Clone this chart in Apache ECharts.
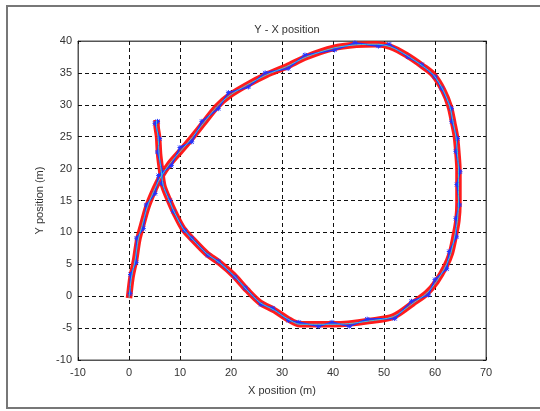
<!DOCTYPE html>
<html>
<head>
<meta charset="utf-8">
<script src="https://cdn.jsdelivr.net/npm/echarts@6/dist/echarts.min.js"></script>
<style>
  html, body { margin: 0; padding: 0; background: #fff; }
  #chart { width: 540px; height: 411px; }
</style>
</head>
<body>
<div id="chart"></div>
<script>
// tick values of both axes
var xTicks = [-10, 0, 10, 20, 30, 40, 50, 60, 70];
var yTicks = [-10, -5, 0, 5, 10, 15, 20, 25, 30, 35, 40];

// red band: measured positions
var redX = [0.0, 0.5, 1.2, 1.8, 2.5, 3.6, 4.8, 6.1, 8.0, 10.3, 12.0, 14.6, 17.2, 19.8, 23.1, 27.0, 30.9, 34.8, 40.1, 44.6, 48.6, 51.2, 54.4, 57.7, 59.7, 61.6, 62.9, 63.6, 64.1, 64.4, 64.6, 64.6, 64.6, 64.4, 63.9, 63.1, 62.0, 60.3, 58.4, 55.7, 51.8, 47.0, 43.0, 40.0, 37.0, 33.5, 31.0, 28.5, 25.7, 23.1, 20.5, 17.8, 15.2, 12.6, 10.6, 9.0, 7.7, 6.7, 6.3, 5.9, 5.7, 5.4, 5.4];
var redY = [-0.3, 3.0, 5.7, 8.8, 10.9, 14.0, 16.4, 18.5, 20.8, 22.9, 24.5, 27.1, 29.7, 31.5, 33.1, 34.7, 36.0, 37.5, 38.9, 39.4, 39.5, 39.1, 37.8, 36.0, 34.7, 32.3, 29.7, 27.1, 25.0, 22.4, 19.8, 17.2, 14.6, 11.9, 9.6, 6.7, 4.6, 2.3, 0.5, -1.1, -3.2, -3.9, -4.3, -4.4, -4.4, -4.4, -3.5, -2.2, -1.0, 1.0, 3.3, 5.2, 6.7, 8.8, 10.6, 13.0, 15.3, 17.4, 19.7, 22.3, 25.0, 26.8, 27.6];

// blue noisy estimate
var blueX = [0.2, 0.3, 1.4, 1.5, 2.8, 3.4, 5.1, 5.8, 8.3, 10.0, 12.3, 14.3, 17.5, 19.5, 23.4, 26.7, 31.2, 34.5, 40.3, 44.3, 48.9, 51.0, 54.7, 57.4, 60.0, 61.3, 63.2, 63.3, 64.4, 64.1, 64.9, 64.3, 64.8, 64.1, 64.2, 62.8, 62.3, 60.0, 58.7, 55.4, 52.1, 46.7, 43.2, 39.8, 37.2, 33.3, 31.3, 28.2, 25.9, 22.8, 20.8, 17.5, 15.5, 12.3, 10.9, 8.7, 8.0, 6.4, 6.6, 5.6, 6.0, 5.1, 5.6];
var blueY = [0.4, 3.4, 5.3, 9.1, 10.6, 14.3, 16.1, 18.9, 20.5, 23.3, 24.2, 27.4, 29.4, 31.9, 32.8, 35.0, 35.7, 37.8, 38.6, 39.7, 39.2, 39.5, 37.5, 36.3, 34.4, 32.6, 29.4, 27.4, 24.7, 22.7, 19.5, 17.5, 14.3, 12.2, 9.3, 7.0, 4.3, 2.6, 0.2, -0.8, -3.5, -3.6, -4.7, -4.1, -4.7, -4.1, -3.8, -1.9, -1.3, 1.3, 3.0, 5.5, 6.4, 9.1, 10.3, 13.3, 15.0, 17.7, 19.4, 22.6, 24.7, 27.1, 27.4];

function pairs(xs, ys) {
    return xs.map(function (x, i) { return [x, ys[i]]; });
}

var myChart = echarts.init(document.getElementById('chart'));

var tickFont = { fontFamily: 'Liberation Sans', fontSize: 11, color: '#333' };
var gridLine = { show: true, lineStyle: { color: '#111', type: [4, 3], width: 1 } };

var option = {
    backgroundColor: '#fff',
    animation: false,
    title: {
        text: 'Y - X position',
        left: 282,
        top: 19,
        textAlign: 'center',
        textStyle: { fontFamily: 'Liberation Sans', fontSize: 11, fontWeight: 'normal', color: '#333' }
    },
    graphic: [{
        type: 'rect',
        shape: { x: 7, y: 6, width: 540, height: 402 },
        style: { fill: 'none', stroke: '#777', lineWidth: 2 },
        silent: true
    }],
    grid: {
        left: 78, right: 54, top: 41, bottom: 51,
        show: true, borderColor: '#555', borderWidth: 1
    },
    xAxis: [{
        type: 'value', min: xTicks[0], max: xTicks[xTicks.length - 1], interval: 10,
        name: 'X position (m)', nameLocation: 'middle', nameGap: 25,
        nameTextStyle: tickFont,
        axisLine: { show: true, onZero: false, lineStyle: { color: '#555' } },
        axisTick: { inside: true, length: 3, lineStyle: { color: '#111' } },
        axisLabel: Object.assign({ margin: 7 }, tickFont),
        splitLine: gridLine
    }, {
        type: 'value', position: 'top', min: xTicks[0], max: xTicks[xTicks.length - 1], interval: 10,
        axisLine: { show: true, onZero: false, lineStyle: { color: '#555' } },
        axisTick: { inside: true, length: 3, lineStyle: { color: '#111' } },
        axisLabel: { show: false }, splitLine: { show: false }
    }],
    yAxis: [{
        type: 'value', min: yTicks[0], max: yTicks[yTicks.length - 1], interval: 5,
        name: 'Y position (m)', nameLocation: 'middle', nameGap: 29,
        nameTextStyle: tickFont,
        axisLine: { show: true, onZero: false, lineStyle: { color: '#555' } },
        axisTick: { inside: true, length: 3, lineStyle: { color: '#111' } },
        axisLabel: Object.assign({ margin: 6 }, tickFont),
        splitLine: gridLine
    }, {
        type: 'value', position: 'right', min: yTicks[0], max: yTicks[yTicks.length - 1], interval: 5,
        axisLine: { show: true, onZero: false, lineStyle: { color: '#555' } },
        axisTick: { inside: true, length: 3, lineStyle: { color: '#111' } },
        axisLabel: { show: false }, splitLine: { show: false }
    }],
    series: [{
        name: 'measured',
        type: 'line',
        data: pairs(redX, redY),
        smooth: 0.3,
        symbol: 'none',
        lineStyle: { color: '#ff1010', width: 6.5, opacity: 0.95 },
        z: 2
    }, {
        name: 'estimate',
        type: 'line',
        data: pairs(blueX, blueY),
        symbol: 'path://M5,0L5,10M0,5L10,5M1,1L9,9M9,1L1,9',
        symbolSize: 5,
        itemStyle: { color: 'transparent', borderColor: '#2233ff', borderWidth: 1 },
        lineStyle: { color: '#2233ff', width: 1.6 },
        z: 3
    }, {
        name: 'path',
        type: 'line',
        data: pairs(redX, redY),
        smooth: 0.3,
        symbol: 'none',
        lineStyle: { color: '#40c8e0', width: 1 },
        z: 4
    }]
};

myChart.setOption(option);
</script>
</body>
</html>
